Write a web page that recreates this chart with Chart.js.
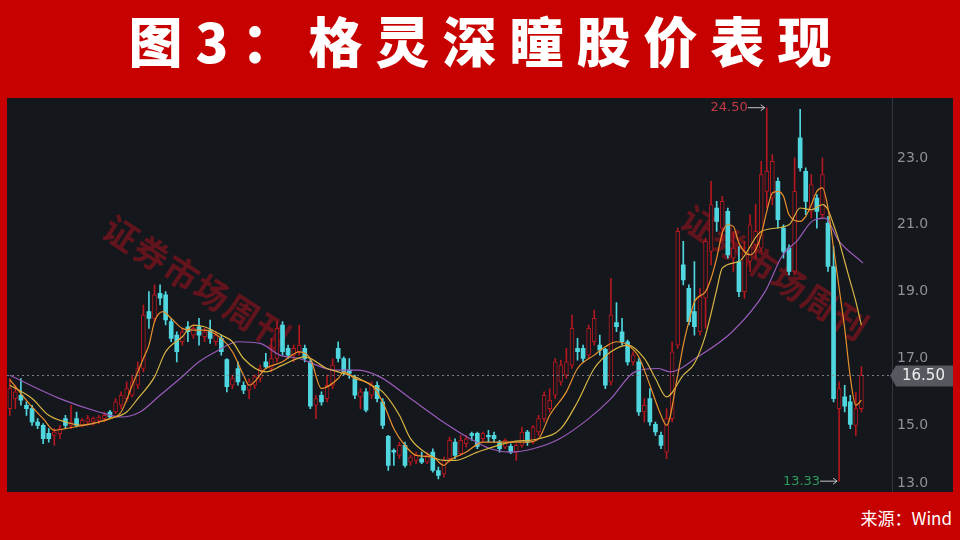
<!DOCTYPE html>
<html>
<head>
<meta charset="utf-8">
<script src="https://cdn.jsdelivr.net/npm/chart.js@4.4.0/dist/chart.umd.min.js"></script>
<style>
html, body { margin: 0; padding: 0; }
body { width: 960px; height: 540px; background: #c70000; position: relative; overflow: hidden; font-family: "Noto Sans CJK SC", sans-serif; }
#panel { position: absolute; left: 7px; top: 98px; width: 946px; height: 394px; background: #14171c; }
.wm { position: absolute; color: rgba(150, 18, 28, 0.6); font: 700 34px "Noto Sans CJK SC"; white-space: nowrap; transform: translate(-50%, -50%) rotate(33deg); letter-spacing: 2px; }
#wrap { position: absolute; left: 7px; top: 60px; width: 946px; height: 454px; }
#top { position: absolute; left: 0; top: 0; width: 960px; height: 98px; background: #c70000; }
#title { position: absolute; left: 0; top: 0; width: 960px; height: 96px; line-height: 96px; text-align: center; color: #fff; font: 900 54px "Noto Sans CJK SC"; letter-spacing: 13px; padding-left: 13px; box-sizing: border-box; }
#bottom { position: absolute; left: 0; top: 492px; width: 960px; height: 48px; background: #c70000; }
#src { position: absolute; right: 8px; top: 15px; color: #fff; font: 17px "Noto Sans CJK SC"; line-height: 22px; }
</style>
</head>
<body>
<div id="panel"></div>
<div class="wm" style="left:198px;top:282px;">证券市场周刊</div>
<div class="wm" style="left:776px;top:272px;">证券市场周刊</div>
<div id="wrap"><canvas id="chart" width="946" height="454"></canvas></div>
<div id="top"><div id="title">图3：格灵深瞳股价表现</div></div>
<div id="bottom"><div id="src">来源：Wind</div></div>
<script>
// daily candles (oldest first)
const opens = [
  15.5,15.8,15.9,15.6,15.5,15.1,15.0,14.76,14.7,14.75,
  15.2,15.0,15.2,15.0,15.1,15.1,15.15,15.2,15.4,15.4,
  15.6,15.8,15.9,16.2,16.7,18.4,18.2,18.95,18.9,18.1,
  17.7,17.5,17.95,17.7,17.95,17.65,17.85,17.5,17.6,16.97,
  16.2,16.7,16.2,16.05,16.2,16.4,16.9,16.7,17.0,18.0,
  17.3,17.1,17.2,17.3,16.9,15.6,15.9,15.8,16.2,17.3,
  17.0,16.65,16.4,15.85,16.0,15.9,16.2,15.7,14.67,14.25,
  14.1,14.4,13.9,13.95,14.0,13.9,14.2,13.65,13.55,14.0,
  14.5,14.15,14.45,14.75,14.76,14.6,14.7,14.7,14.5,14.35,
  14.37,14.2,14.4,14.8,14.5,14.8,15.2,15.5,15.9,16.3,
  16.5,16.8,17.3,17.3,17.1,17.5,17.4,17.27,16.3,18.07,
  17.8,17.5,16.9,16.9,15.4,15.8,15.03,14.7,14.2,15.2,
  17.4,19.8,19.1,18.4,17.8,18.8,20.2,21.5,20.9,21.4,
  20.0,19.9,19.0,19.9,20.4,20.3,22.0,21.8,22.3,20.9,
  20.3,19.6,23.6,22.6,21.4,21.8,21.3,21.05,19.75,15.5,
  15.85,15.7,15.0,15.5
];
const highs = [
  16.4,16.2,16.4,15.7,15.6,15.2,15.05,14.9,14.9,15.0,
  15.3,15.6,15.4,15.2,15.3,15.25,15.3,15.4,15.45,15.8,
  16.0,16.3,16.5,16.9,18.6,19.0,19.2,19.2,19.0,18.2,
  17.8,17.9,18.1,18.0,18.2,17.9,18.15,17.8,17.7,17.0,
  16.5,16.9,16.3,16.4,16.5,16.8,17.15,17.6,18.1,18.1,
  17.4,17.4,18.0,17.4,17.0,15.9,16.0,16.5,17.0,17.5,
  17.05,17.0,16.5,16.1,16.1,16.3,16.3,15.8,14.7,14.3,
  14.5,14.5,14.1,14.2,14.2,14.2,14.3,13.75,14.05,14.65,
  14.6,14.7,14.7,14.8,14.8,14.8,14.85,14.8,14.55,14.6,
  14.45,14.45,14.95,14.85,15.0,15.3,16.0,16.1,17.0,16.95,
  17.3,18.3,17.6,17.4,18.0,18.45,17.7,17.3,19.4,18.67,
  18.2,17.55,17.2,17.0,15.8,16.1,15.1,14.8,15.5,17.5,
  20.9,20.5,19.2,19.9,19.1,20.6,22.3,21.7,21.85,21.5,
  20.8,20.35,20.5,21.3,21.6,22.9,24.5,23.1,22.4,21.0,
  20.4,23.0,24.45,22.7,22.5,21.9,23.0,21.25,20.35,16.3,
  16.2,15.9,15.98,16.76
];
const lows = [
  15.3,15.5,15.6,15.3,15.0,14.9,14.45,14.5,14.4,14.6,
  14.9,14.9,14.95,14.95,15.0,15.0,15.05,15.1,15.2,15.35,
  15.5,15.7,15.85,16.1,16.6,17.9,18.1,18.6,18.0,17.5,
  16.9,17.4,17.5,17.6,17.4,17.5,17.45,17.4,17.1,16.0,
  16.1,16.2,15.95,15.8,16.1,16.3,16.7,16.6,16.9,17.1,
  17.0,16.9,17.1,16.9,15.5,15.2,15.6,15.7,16.1,16.9,
  16.5,16.4,15.8,15.5,15.4,15.8,15.7,14.9,13.65,13.8,
  14.0,13.75,13.8,13.85,13.85,13.85,13.6,13.4,13.45,13.9,
  14.0,14.1,14.35,14.55,14.3,14.5,14.5,14.5,14.2,14.3,
  14.15,13.95,14.35,14.4,14.45,14.7,15.1,15.4,15.8,16.2,
  16.4,16.7,16.95,16.9,17.0,17.4,17.1,16.1,16.2,17.8,
  17.4,16.8,16.8,15.3,15.1,15.0,14.7,14.3,14.0,15.1,
  17.3,19.2,18.0,17.7,17.7,17.9,19.8,20.8,20.5,20.0,
  19.6,18.85,18.8,19.6,20.0,20.2,21.5,21.6,20.9,20.0,
  19.5,19.5,22.6,21.3,21.2,20.9,21.2,19.6,15.7,13.33,
  15.4,14.9,14.7,15.4
];
const closes = [
  16.1,16.0,15.75,15.5,15.1,15.0,14.6,14.6,14.8,14.9,
  15.0,15.1,15.0,15.15,15.2,15.2,15.25,15.3,15.25,15.7,
  15.9,16.1,16.3,16.7,18.3,18.2,18.9,18.8,18.15,17.6,
  17.2,17.8,17.8,17.9,17.7,17.8,17.6,17.7,17.2,16.16,
  16.4,16.3,16.05,16.3,16.45,16.7,16.75,17.0,17.9,17.2,
  17.1,17.3,17.4,17.0,15.57,15.8,15.7,16.2,16.8,17.0,
  16.6,16.55,15.9,16.0,15.45,16.2,15.8,15.0,13.8,14.2,
  14.4,13.8,14.05,14.1,13.9,14.1,13.65,13.5,13.95,14.55,
  14.1,14.55,14.6,14.7,14.37,14.75,14.65,14.6,14.3,14.55,
  14.2,14.4,14.8,14.5,14.95,15.2,15.9,15.75,16.9,16.8,
  16.9,17.9,17.2,17.0,17.9,18.2,17.25,16.2,18.3,17.95,
  17.5,16.9,17.1,15.4,15.6,15.1,14.8,14.4,15.2,17.2,
  20.8,19.35,18.1,17.95,18.85,20.5,21.6,21.1,21.7,20.1,
  20.3,19.0,20.2,21.0,20.8,22.5,22.6,22.9,21.15,20.2,
  19.6,22.0,22.7,21.7,22.2,21.4,22.5,19.75,15.8,16.1,
  15.57,15.03,15.5,16.5
];

// moving-average lines, read as [candle index, price]
const ma5 = [
  [0,16.37],[2,15.95],[4,15.55],[6,15.2],[8,14.85],[10,14.9],[13,15.0],[16,15.1],[18,15.2],[20,15.4],
  [22,16.2],[24,17.0],[25,17.4],[26,18.1],[27.5,18.4],[29,18.2],[31,17.9],[33,17.85],[35,17.85],[38,17.6],
  [40,17.2],[42,16.5],[43,16.2],[46,16.7],[49,16.9],[52,17.2],[54,17.0],[56,16.1],[59,16.4],[60,16.6],
  [62,16.4],[65,16.2],[67,15.7],[69,14.9],[71,14.4],[73,14.1],[76,14.05],[78,13.8],[79,13.95],[82,14.2],
  [85,14.5],[89,14.5],[93,14.5],[95,14.6],[97,15.3],[100,16.0],[102,16.7],[105,17.1],[107,17.35],[109,17.5],
  [111,17.4],[113,17.05],[115,16.2],[117,15.3],[118,15.0],[120,16.5],[121,17.4],[122,18.1],[123,18.7],[125,19.0],
  [126,19.4],[127,20.0],[128,20.75],[129,21.0],[130,20.95],[131,20.45],[133,20.1],[134,20.25],[135,20.7],[136,21.4],
  [137,21.95],[138,22.0],[139,21.85],[140,21.3],[142,21.1],[143,21.25],[144,21.6],[145,22.0],[146,22.1],[147,21.5],
  [148,20.3],[149,19.1],[150,17.9],[151,16.45],[152,15.6],[153,15.75]
];
const ma10 = [
  [0,16.2],[4,15.8],[7,15.3],[10,15.1],[13,15.0],[16,15.1],[18,15.2],[21,15.4],[23,15.8],[26,16.45],
  [28,17.2],[31,17.65],[33,18.0],[35,17.95],[38,17.7],[40,17.5],[42,17.0],[46,16.6],[49,16.8],[53,17.05],
  [57,16.7],[59,16.6],[62,16.45],[65,16.2],[67,16.0],[70,15.3],[72,14.6],[75,14.15],[78,13.95],[80,13.95],
  [84,14.2],[90,14.5],[95,14.6],[99,14.9],[102,15.7],[105,16.7],[108,17.2],[111,17.4],[114,17.0],[116,16.4],
  [118,15.85],[121,16.5],[123,16.85],[125,17.7],[127,19.05],[128,19.7],[131,19.9],[135,20.8],[140,21.0],[142,21.5],
  [144,21.45],[146,21.6],[147,21.45],[148,21.0],[149,20.5],[150,19.9],[151,19.3],[152,18.7],[153,18.0]
];
const ma20 = [
  [0,16.5],[9,15.8],[16,15.4],[20,15.25],[23.4,15.4],[27,15.9],[30.6,16.4],[34,16.9],[37,17.2],[41,17.5],
  [45,17.45],[48.5,17.1],[52,17.0],[58.4,16.65],[62.6,16.65],[66.5,16.45],[72,15.8],[77,15.2],[82.7,14.6],[86.3,14.3],
  [90,14.2],[94,14.3],[98.8,14.6],[104,15.2],[108,15.8],[112.3,16.6],[116.5,16.7],[118.6,16.6],[123.6,17.05],[129.8,17.8],
  [135.7,19.0],[138.7,20.05],[141.6,20.55],[144.1,21.1],[146.5,21.2],[148.8,20.55],[153.3,19.85]
];
const yTicks = [13, 15, 17, 19, 21, 23, 25];

const SLOTS = 159; // candles plus the empty gap before the price axis
const RED = '#b3171f';
const CYAN = '#4fd6df';
const PANEL = '#14171c';
const up = closes.map((c, i) => c >= opens[i]);

const markers = {
  id: 'markers',
  afterDatasetsDraw(chart) {
    const { ctx, chartArea: a, scales: { x, y } } = chart;
    const last = closes[closes.length - 1];
    const py = Math.round(y.getPixelForValue(last)) + 0.5;
    ctx.save();
    ctx.setLineDash([2, 3]);
    ctx.strokeStyle = 'rgba(140,143,150,0.85)';
    ctx.lineWidth = 1;
    ctx.beginPath();
    ctx.moveTo(a.left, py);
    ctx.lineTo(a.right, py);
    ctx.stroke();
    ctx.setLineDash([]);

    const tx = a.right + 1;
    ctx.fillStyle = '#55585e';
    ctx.beginPath();
    ctx.moveTo(tx - 3, py);
    ctx.lineTo(tx + 3, py - 10);
    ctx.lineTo(chart.width, py - 10);
    ctx.lineTo(chart.width, py + 11);
    ctx.lineTo(tx + 3, py + 11);
    ctx.closePath();
    ctx.fill();
    ctx.fillStyle = '#eeeeee';
    ctx.font = '15px "DejaVu Sans"';
    ctx.textBaseline = 'middle';
    ctx.textAlign = 'left';
    ctx.fillText(last.toFixed(2), tx + 9, py + 1);

    const tag = (value, idx, color) => {
      const cx = x.getPixelForValue(idx);
      const cy = y.getPixelForValue(value);
      ctx.strokeStyle = '#c4c4c4';
      ctx.lineWidth = 1;
      ctx.beginPath();
      ctx.moveTo(cx - 19, cy);
      ctx.lineTo(cx - 2, cy);
      ctx.moveTo(cx - 6, cy - 3);
      ctx.lineTo(cx - 2, cy);
      ctx.lineTo(cx - 6, cy + 3);
      ctx.stroke();
      ctx.fillStyle = color;
      ctx.font = '13px "DejaVu Sans"';
      ctx.textAlign = 'right';
      ctx.fillText(value.toFixed(2), cx - 19, cy);
    };
    const hi = Math.max(...highs);
    const lo = Math.min(...lows);
    tag(hi, highs.indexOf(hi), '#c43a45');
    tag(lo, lows.indexOf(lo), '#2f9b5f');
    ctx.restore();
  }
};

const maLine = (pts, color) => ({
  type: 'line',
  data: pts.map(([x, y]) => ({ x, y })),
  borderColor: color,
  borderWidth: 1.2,
  pointRadius: 0,
  cubicInterpolationMode: 'monotone',
  order: 0
});

new Chart(document.getElementById('chart'), {
  type: 'bar',
  data: {
    datasets: [
      maLine(ma5, '#e8912e'),
      maLine(ma10, '#d8b643'),
      maLine(ma20, '#9a5ab8'),
      {
        type: 'bar',
        data: opens.map((o, i) => ({ x: i, y: [Math.min(o, closes[i]), Math.max(o, closes[i])] })),
        backgroundColor: up.map(u => u ? PANEL : CYAN),
        borderColor: up.map(u => u ? RED : CYAN),
        borderWidth: up.map(u => u ? 1 : 0),
        borderSkipped: false,
        barThickness: 4,
        minBarLength: 1,
        grouped: false,
        order: 1
      },
      {
        type: 'bar',
        data: highs.map((h, i) => ({ x: i, y: [lows[i], h] })),
        backgroundColor: up.map(u => u ? RED : CYAN),
        barThickness: 1,
        grouped: false,
        order: 2
      }
    ]
  },
  options: {
    responsive: false,
    animation: false,
    events: [],
    layout: { padding: { top: 31, bottom: 20, left: 0, right: 0 } },
    plugins: { legend: { display: false }, tooltip: { enabled: false } },
    scales: {
      x: { type: 'linear', min: -0.5, max: SLOTS - 0.5, offset: false, display: false },
      y: {
        position: 'right',
        min: 13,
        max: 25,
        afterBuildTicks: s => { s.ticks = yTicks.map(v => ({ value: v })); },
        afterFit: s => { s.width = 61; },
        grid: { display: false, drawTicks: false },
        border: { display: true, color: '#33363c' },
        ticks: {
          color: '#8d9196',
          padding: 5,
          font: { family: 'DejaVu Sans', size: 14, lineHeight: 1.2 },
          callback: v => v === 13 ? ['13.0', ''] : v.toFixed(1)
        }
      }
    }
  },
  plugins: [markers]
});
</script>
</body>
</html>
